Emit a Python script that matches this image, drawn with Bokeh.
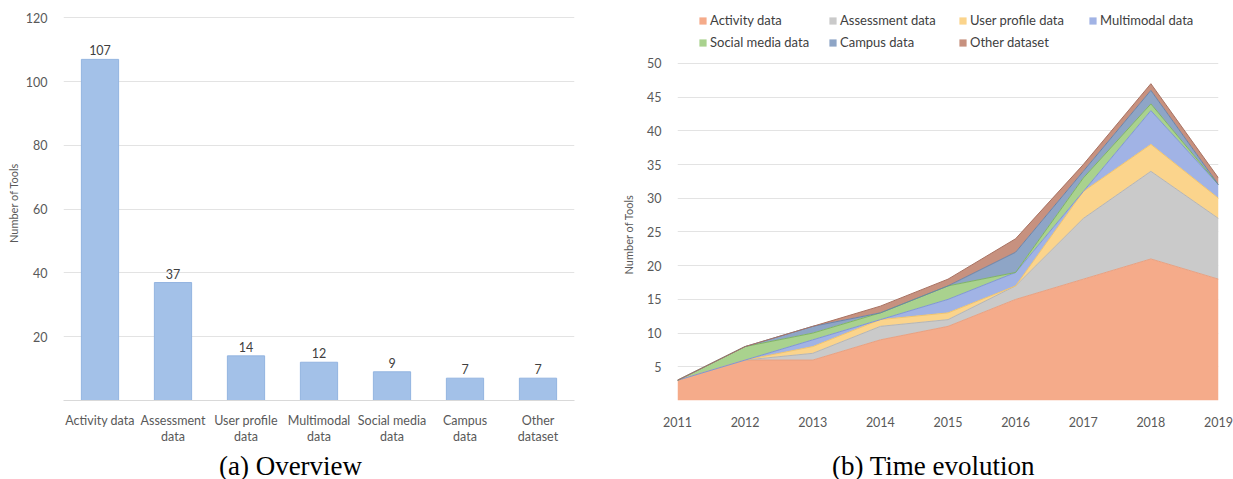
from bokeh.plotting import figure
from bokeh.layouts import row, column
from bokeh.models import (ColumnDataSource, FixedTicker, Title, Legend, LegendItem,
                          LabelSet, Label, FactorRange, Range1d)
from bokeh.core.properties import value
from bokeh.transform import stack
from bokeh.embed import file_html
from bokeh.resources import INLINE

# ---- (a) Overview: number of tools per data type ----
categories = ["Activity data", "Assessment data", "User profile data", "Multimodal data",
              "Social media data", "Campus data", "Other dataset"]
category_tick_labels = ["Activity data", "Assessment\ndata", "User profile\ndata", "Multimodal\ndata",
                        "Social media\ndata", "Campus\ndata", "Other\ndataset"]
tool_counts = [107, 37, 14, 12, 9, 7, 7]
overview_ticks = [20, 40, 60, 80, 100, 120]

# ---- (b) Time evolution: tools per year, stacked by data type ----
years = [2011, 2012, 2013, 2014, 2015, 2016, 2017, 2018, 2019]
activity = [3, 6, 6, 9, 11, 15, 18, 21, 18]
assessment = [0, 0, 1, 2, 1, 2, 9, 13, 9]
user_profile = [0, 0, 1, 1, 1, 0, 4, 4, 3]
multimodal = [0, 0, 1, 0, 2, 2, 0, 5, 2]
social_media = [0, 2, 1, 1, 2, 0, 2, 1, 0]
campus = [0, 0, 1, 0, 0, 3, 1, 2, 0]
other = [0, 0, 0, 1, 1, 2, 1, 1, 1]
evolution_ticks = [5, 10, 15, 20, 25, 30, 35, 40, 45, 50]

captions = ["(a) Overview", "(b) Time evolution"]

series_keys = ["activity", "assessment", "user_profile", "multimodal", "social_media", "campus", "other"]
fill_colors = ["#F5AB8A", "#CACACA", "#FBD48C", "#A1B3E5", "#A9D28E", "#8EA5C6", "#C7917F"]
edge_colors = ["#E8A080", "#B5B5B5", "#F0C46E", "#7F95D6", "#7FB463", "#6A83A8", "#A87262"]

FONT = "Lato"
TEXT = "#595959"
CHART_H, CAPTION_H = 449, 30
TOP, BOTTOM = 5, 49

# ---------------- left chart ----------------
src_a = ColumnDataSource(dict(cat=category_tick_labels, count=tool_counts,
                              label=[str(v) for v in tool_counts]))

# a little headroom above 120 keeps the top gridline clear of the canvas edge
p1 = figure(width=610, height=CHART_H, x_range=FactorRange(factors=category_tick_labels),
            y_range=Range1d(0, 123.9), output_backend="svg", toolbar_location=None,
            min_border_left=63, min_border_right=36, min_border_top=TOP, min_border_bottom=BOTTOM)
p1.vbar(x="cat", top="count", width=0.51, source=src_a,
        fill_color="#A3C1E8", line_color="#93B4E0", line_width=1)
p1.add_layout(LabelSet(x="cat", y="count", text="label", source=src_a, y_offset=4,
                       text_align="center", text_baseline="bottom",
                       text_font_size="12.5px", text_color="#404040", text_font=value(FONT)))

p1.yaxis.ticker = FixedTicker(ticks=overview_ticks)
p1.yaxis.axis_label = "Number of Tools"

# ---------------- right chart ----------------
src_b = ColumnDataSource(dict(year=years, activity=activity, assessment=assessment,
                              user_profile=user_profile, multimodal=multimodal,
                              social_media=social_media, campus=campus, other=other))

# 50 sits on the top gridline; the space above it holds the legend
p2 = figure(width=623, height=CHART_H, x_range=Range1d(2011, 2019), y_range=Range1d(0, 58.6),
            output_backend="svg", toolbar_location=None,
            min_border_left=67, min_border_right=15, min_border_top=TOP, min_border_bottom=BOTTOM)
areas = p2.varea_stack(stackers=series_keys, x="year", color=fill_colors, source=src_b)
for i, key in enumerate(series_keys):
    p2.line(x="year", y=stack(*series_keys[:i + 1]), source=src_b,
            line_color=edge_colors[i], line_width=1)

legend = Legend(items=[LegendItem(label=n, renderers=[r]) for n, r in zip(categories, areas)],
                location=(21, 349), ncols=4, orientation="horizontal",
                glyph_width=9, glyph_height=9, label_height=18, label_width=114,
                label_standoff=3, spacing=4, padding=0, margin=0, border_line_color=None,
                background_fill_alpha=0, label_text_font=FONT, label_text_font_size="13px",
                label_text_color="#404040")
p2.add_layout(legend)

p2.xaxis.ticker = FixedTicker(ticks=years)
p2.yaxis.ticker = FixedTicker(ticks=evolution_ticks)
p2.add_layout(Title(text="Number of Tools", align="left", offset=126,
                    text_font=FONT, text_font_size="11px", text_font_style="normal",
                    text_color=TEXT, standoff=19), "left")

# ---------------- shared styling ----------------
for p in (p1, p2):
    p.outline_line_color = None
    p.xgrid.grid_line_color = None
    p.ygrid.grid_line_color = "#E3E3E3"
    p.ygrid.grid_line_width = 1
    for ax in (p.xaxis, p.yaxis):
        ax.major_tick_line_color = None
        ax.minor_tick_line_color = None
        ax.major_label_text_font = FONT
        ax.major_label_text_font_size = "12.5px"
        ax.major_label_text_color = TEXT
        ax.major_label_text_line_height = 1.1
        ax.axis_label_text_font = FONT
        ax.axis_label_text_font_size = "11px"
        ax.axis_label_text_font_style = "normal"
        ax.axis_label_text_color = TEXT
    p.yaxis.axis_line_color = None
    p.yaxis.major_label_standoff = 10

p1.yaxis.axis_label_standoff = 3
p1.xaxis.major_label_standoff = 6
p2.xaxis.major_label_standoff = 10
p1.xaxis.axis_line_color = "#D9D9D9"
p2.xaxis.axis_line_color = None

# ---------------- caption strip under both charts ----------------
cap = figure(width=1233, height=CAPTION_H, x_range=Range1d(0, 1233), y_range=Range1d(0, CAPTION_H),
             output_backend="svg", toolbar_location=None, x_axis_location=None,
             y_axis_location=None, min_border=0)
cap.outline_line_color = None
cap.grid.visible = False
for text, cx in zip(captions, [290, 933]):
    cap.add_layout(Label(x=cx, y=14, text=text, text_align="center", text_baseline="middle",
                         text_font="Liberation Serif", text_font_size="27px", text_color="black"))

layout = column(row(p1, p2), cap)
open("out.html", "w").write(file_html(layout, INLINE))
